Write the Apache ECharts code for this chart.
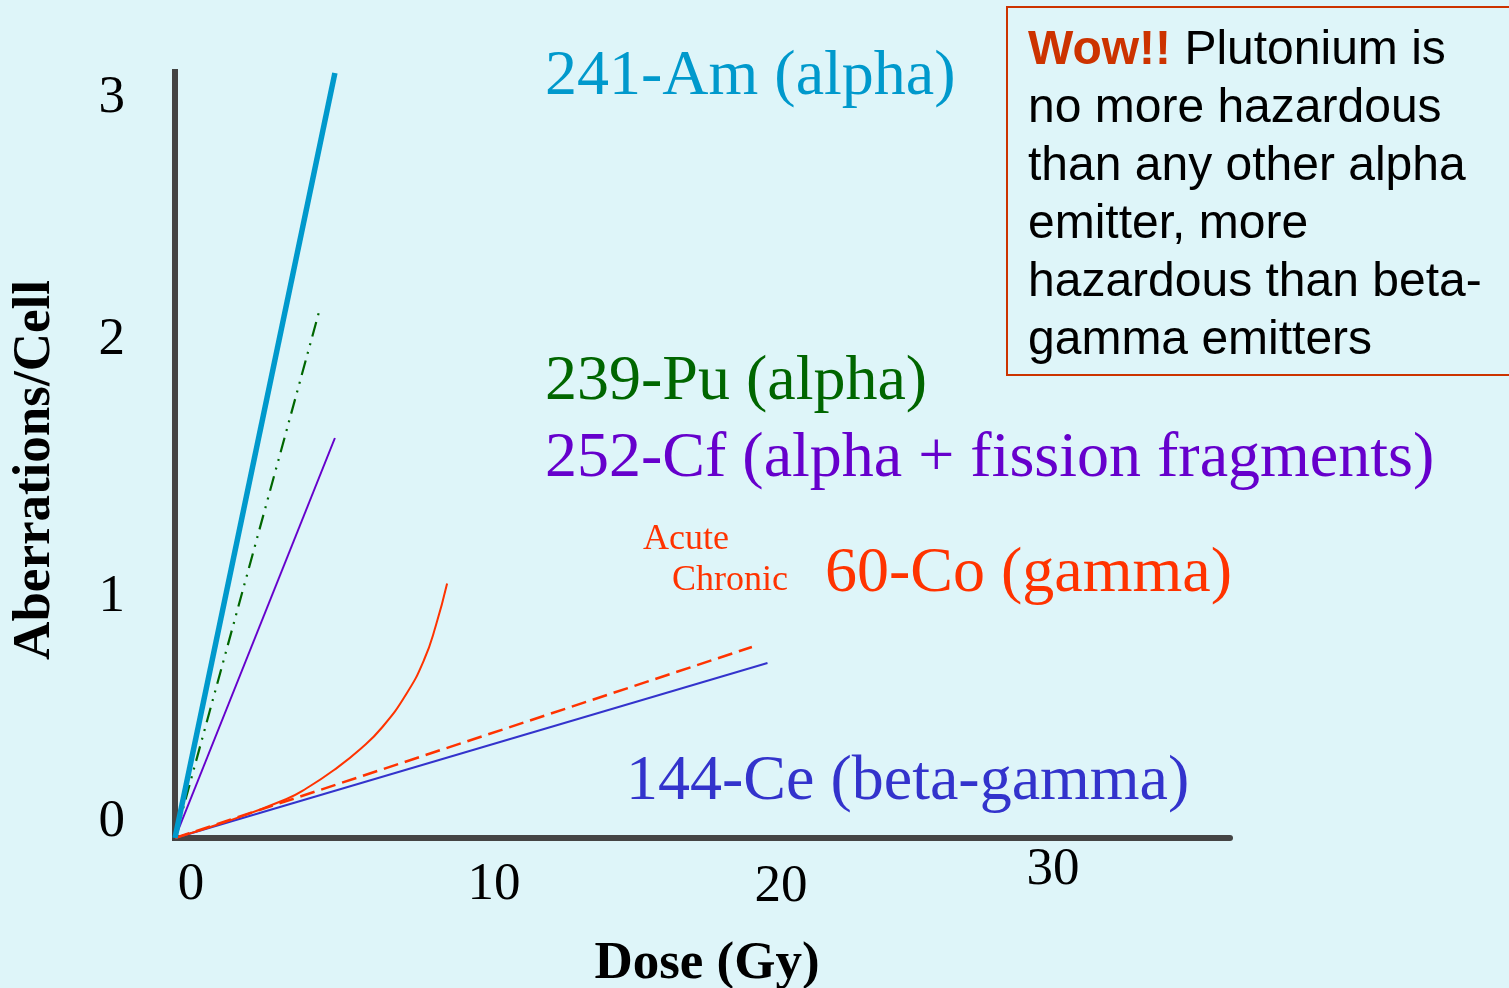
<!DOCTYPE html>
<html><head><meta charset="utf-8">
<script src="https://cdn.jsdelivr.net/npm/echarts@6/dist/echarts.min.js"></script>
<style>html,body{margin:0;padding:0;background:#def5f9;}#c{width:1509px;height:988px;}</style>
</head><body><div id="c"></div>
<script>
// ---- data ----
const xTickValues = [0, 10, 20, 30];
const xTickLabels = ['0', '10', '20', '30'];
const yTickValues = [0, 1, 2, 3];
const yTickLabels = ['0', '1', '2', '3'];

const am241 = [[0, 0], [5.33, 3.06]];
const pu239 = [[0, 0], [4.79, 2.10]];
const cf252 = [[0, 0], [5.33, 1.60]];
const co60Acute = [[0, 0], [1.7, 0.065], [3.7, 0.155], [4.4, 0.2], [5.3, 0.272], [6.2, 0.358], [6.9, 0.442], [7.7, 0.574], [8.3, 0.712], [8.7, 0.852], [9.07, 1.018]];
const co60Chronic = [[0, 0], [19.23, 0.764]];
const ce144 = [[0, 0], [19.75, 0.70]];

const seriesNames = ['241-Am (alpha)', '239-Pu (alpha)', '252-Cf (alpha + fission fragments)', '60-Co (gamma)', '144-Ce (beta-gamma)'];
const coSubNames = ['Acute', 'Chronic'];
const noteLines = ['Plutonium is', 'no more hazardous', 'than any other alpha', 'emitter, more', 'hazardous than beta-', 'gamma emitters'];
const noteLead = 'Wow!!';

// ---- styles ----
const SERIF = '"Liberation Serif", "Times New Roman", serif';
const SANS = '"Liberation Sans", Arial, sans-serif';
const xLabelPad = [[15, 0, 0, 32], [15, 0, 0, 38], [17, 0, 0, 12], [0, 44, 0, 0]];
const yLabelPad = [[0, 0, 32, 0], [18, 0, 0, 0], [4, 0, 0, 0], [20, 0, 0, 0]];
const tickFont = { fontFamily: SERIF, fontSize: 53, color: '#000' };

const xRich = {}; xLabelPad.forEach((p, i) => { xRich['t' + i] = Object.assign({ padding: p }, tickFont); });
const yRich = {}; yLabelPad.forEach((p, i) => { yRich['t' + i] = Object.assign({ padding: p }, tickFont); });

const chart = echarts.init(document.getElementById('c'), null, { renderer: 'canvas' });

function lineSeries(name, data, color, width, type, z) {
  return {
    name, type: 'line', data, showSymbol: false, symbol: 'none', silent: true, clip: false, z,
    lineStyle: { color, width, type: type || 'solid', cap: 'butt' }
  };
}

const acute = lineSeries(coSubNames[0], co60Acute, '#ff3300', 2, 'solid', 4);
acute.smooth = 0.5;

const option = {
  backgroundColor: '#def5f9',
  animation: false,
  grid: { left: 175, top: 72, width: 1055, height: 766, containLabel: false, outerBoundsMode: 'none' },
  xAxis: {
    type: 'value', min: 0, max: 1055 / 30, interval: 10,
    axisLine: { show: true, onZero: false, lineStyle: { color: '#444444', width: 6 } },
    axisTick: { show: false }, splitLine: { show: false },
    axisLabel: {
      margin: 6, showMaxLabel: false, rich: xRich,
      formatter: v => { const i = xTickValues.indexOf(v); return i < 0 ? '' : '{t' + i + '|' + xTickLabels[i] + '}'; }
    },
    name: 'Dose (Gy)', nameLocation: 'middle', nameGap: 100,
    nameTextStyle: { fontFamily: SERIF, fontSize: 53, fontWeight: 'bold', color: '#000', padding: [0, 0, 0, 9] }
  },
  yAxis: {
    type: 'value', min: 0, max: 766 / 250, interval: 1,
    axisLine: { show: true, onZero: false, lineStyle: { color: '#444444', width: 6, cap: 'square' } },
    axisTick: { show: false }, splitLine: { show: false },
    axisLabel: {
      margin: 50, showMaxLabel: false, rich: yRich,
      formatter: v => { const i = yTickValues.indexOf(v); return i < 0 ? '' : '{t' + i + '|' + yTickLabels[i] + '}'; }
    },
    name: 'Aberrations/Cell', nameLocation: 'middle', nameGap: 113,
    nameTextStyle: { fontFamily: SERIF, fontSize: 53, fontWeight: 'bold', color: '#000', padding: [0, 30, 0, 0] }
  },
  series: [
    lineSeries('144-Ce', ce144, '#3333cc', 2, 'solid', 2),
    lineSeries(coSubNames[1], co60Chronic, '#ff3300', 2.5, [15, 7], 3),
    acute,
    lineSeries('252-Cf', cf252, '#6600cc', 2, 'solid', 5),
    lineSeries('239-Pu', pu239, '#006600', 2.2, [15, 7, 2, 7, 2, 7], 6),
    lineSeries('241-Am', am241, '#0099cc', 5.5, 'solid', 7)
  ],
  graphic: [
    { type: 'text', x: 545, y: 77.5, silent: true, style: { text: seriesNames[0], font: '64px ' + SERIF, fill: '#0099cc', verticalAlign: 'middle', align: 'left' } },
    { type: 'text', x: 545, y: 382.5, silent: true, style: { text: seriesNames[1], font: '64px ' + SERIF, fill: '#006600', verticalAlign: 'middle', align: 'left' } },
    { type: 'text', x: 545, y: 459.5, silent: true, style: { text: seriesNames[2], font: '64px ' + SERIF, fill: '#6600cc', verticalAlign: 'middle', align: 'left' } },
    { type: 'text', x: 825, y: 574.5, silent: true, style: { text: seriesNames[3], font: '64px ' + SERIF, fill: '#ff3300', verticalAlign: 'middle', align: 'left' } },
    { type: 'text', x: 626, y: 782, silent: true, style: { text: seriesNames[4], font: '64px ' + SERIF, fill: '#3333cc', verticalAlign: 'middle', align: 'left' } },
    { type: 'text', x: 643, y: 540, silent: true, style: { text: coSubNames[0], font: '36px ' + SERIF, fill: '#ff3300', verticalAlign: 'middle', align: 'left' } },
    { type: 'text', x: 672, y: 581, silent: true, style: { text: coSubNames[1], font: '36px ' + SERIF, fill: '#ff3300', verticalAlign: 'middle', align: 'left' } },
    { type: 'rect', silent: true, shape: { x: 1007, y: 7, width: 540, height: 368 }, style: { fill: 'none', stroke: '#cc3300', lineWidth: 2 } },
    { type: 'text', x: 1028, y: 22, silent: true, style: {
        text: '{w|' + noteLead + '}{n| ' + noteLines[0] + '}\n' + noteLines.slice(1).map(s => '{n|' + s + '}').join('\n'),
        font: '48px ' + SANS, fill: '#000', lineHeight: 58, verticalAlign: 'top', align: 'left',
        rich: {
          w: { fontWeight: 'bold', fontSize: 48, fontFamily: SANS, fill: '#cc3300', color: '#cc3300', lineHeight: 58 },
          n: { fontSize: 48, fontFamily: SANS, fill: '#000', color: '#000', lineHeight: 58 }
        }
    } }
  ]
};
chart.setOption(option);
</script>
</body></html>
